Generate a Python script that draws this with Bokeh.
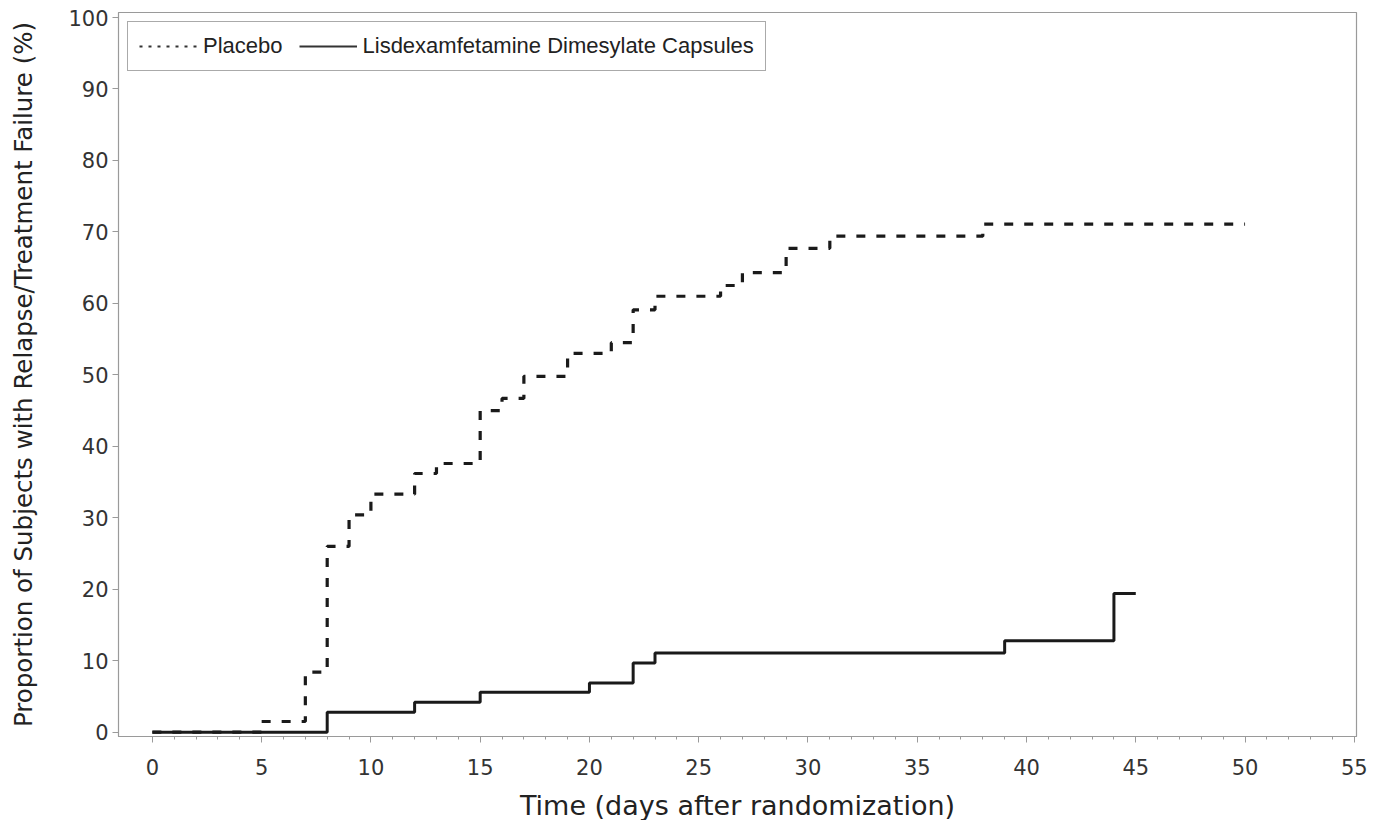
from bokeh.plotting import figure
from bokeh.models import Range1d, Legend, LegendItem, FixedTicker
from bokeh.embed import file_html
from bokeh.resources import INLINE

# ---- data ----
placebo_days = [0, 5, 7, 8, 9, 10, 12, 13, 15, 16, 17, 19, 21, 22, 23, 26, 27, 29, 31, 38, 50]
placebo_pct = [0, 1.5, 8.4, 26.0, 30.4, 33.3, 36.2, 37.6, 45.0, 46.7, 49.8, 53.0, 54.5,
               59.1, 61.0, 62.5, 64.3, 67.7, 69.4, 71.1, 71.1]
ldx_days = [0, 8, 12, 15, 20, 22, 23, 39, 44, 45]
ldx_pct = [0, 2.8, 4.2, 5.6, 6.9, 9.7, 11.1, 12.8, 19.4, 19.4]
x_ticks = [0, 5, 10, 15, 20, 25, 30, 35, 40, 45, 50, 55]
y_ticks = [0, 10, 20, 30, 40, 50, 60, 70, 80, 90, 100]
series_names = ["Placebo", "Lisdexamfetamine Dimesylate Capsules"]

NAN = float("nan")

p = figure(
    frame_width=1238, frame_height=724,
    min_border_left=118, min_border_top=12, min_border_right=12, min_border_bottom=70,
    x_range=Range1d(-1.55, 55.1), y_range=Range1d(-0.6, 100.7),
    output_backend="svg", toolbar_location=None,
    background_fill_color="white", border_fill_color="white",
)
p.outline_line_color = "#9a9a9a"
p.outline_line_width = 1.2
p.xgrid.visible = False
p.ygrid.visible = False

# x axis
xa = p.xaxis[0]
xa.ticker = FixedTicker(ticks=x_ticks, minor_ticks=list(range(0, 56)))
xa.axis_label = "Time (days after randomization)"
xa.axis_line_color = "#9a9a9a"
xa.major_tick_line_color = "#9a9a9a"
xa.minor_tick_line_color = "#9a9a9a"
xa.major_tick_out = 6
xa.major_tick_in = 0
xa.minor_tick_out = 3
xa.minor_tick_in = 0
xa.major_label_text_font = "DejaVu Sans"
xa.major_label_text_font_size = "21px"
xa.major_label_text_color = "#333333"
xa.major_label_standoff = 16
xa.axis_label_text_font = "DejaVu Sans"
xa.axis_label_text_font_size = "27px"
xa.axis_label_text_font_style = "normal"
xa.axis_label_text_color = "#222222"
xa.axis_label_standoff = 12

# y axis
ya = p.yaxis[0]
ya.ticker = FixedTicker(ticks=y_ticks, minor_ticks=[])
ya.axis_label = "Proportion of Subjects with Relapse/Treatment Failure (%)"
ya.axis_line_color = "#9a9a9a"
ya.major_tick_line_color = "#9a9a9a"
ya.major_tick_out = 6
ya.major_tick_in = 0
ya.major_label_text_font = "DejaVu Sans"
ya.major_label_text_font_size = "21px"
ya.major_label_text_color = "#333333"
ya.major_label_standoff = 4
ya.axis_label_text_font = "DejaVu Sans"
ya.axis_label_text_font_size = "24.5px"
ya.axis_label_text_font_style = "normal"
ya.axis_label_text_color = "#222222"
ya.axis_label_standoff = 27

# curves
p.step(ldx_days, ldx_pct, mode="after", line_color="#1a1a1a", line_width=3)
p.step(placebo_days, placebo_pct, mode="after", line_color="#1a1a1a", line_width=3.2,
       line_dash="9 11")

# legend proxies (not drawn in the data area)
leg_placebo = p.line([NAN, NAN], [NAN, NAN], line_color="#333333", line_width=2,
                     line_dash="3 6")
leg_ldx = p.line([NAN, NAN], [NAN, NAN], line_color="#333333", line_width=2)

legend = Legend(
    items=[LegendItem(label=series_names[0], renderers=[leg_placebo]),
           LegendItem(label=series_names[1], renderers=[leg_ldx])],
    location="top_left", orientation="horizontal",
    margin=9, padding=11, spacing=16, label_standoff=6,
    glyph_width=58, glyph_height=20, label_height=20,
    label_text_font="Liberation Sans", label_text_font_size="22px",
    label_text_color="#222222",
    border_line_color="#555555", border_line_width=1.6,
    background_fill_color="white", background_fill_alpha=1.0,
)
p.add_layout(legend)

open("out.html", "w").write(file_html(p, INLINE))
